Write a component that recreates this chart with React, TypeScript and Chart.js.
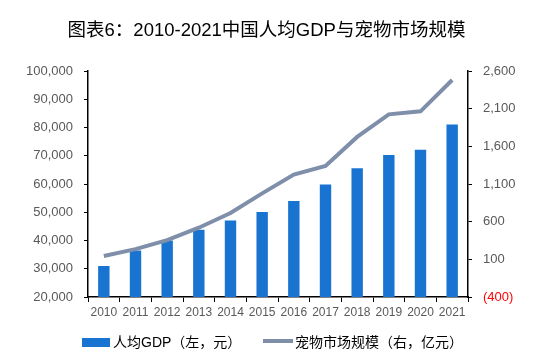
import React, { useEffect, useRef } from 'react';
import { Chart, registerables } from 'chart.js';

Chart.register(...registerables);

const years = ['2010', '2011', '2012', '2013', '2014', '2015', '2016', '2017', '2018', '2019', '2020', '2021'];
const gdpPerCapita = [31000, 36500, 40000, 43800, 47100, 50100, 54000, 59800, 65600, 70300, 72100, 81100];
const petMarket = [145, 235, 355, 520, 715, 975, 1225, 1340, 1725, 2025, 2065, 2480];

const titleText = '图表6：2010-2021中国人均GDP与宠物市场规模';
const gdpLabel = '人均GDP（左，元）';
const petLabel = '宠物市场规模（右，亿元）';

const BAR_COLOR = '#1874D0';
const LINE_COLOR = '#7F8FAA';
const TICK_COLOR = '#595959';
const FONT = "'Liberation Sans', Arial, sans-serif";
const MIXED = "'Liberation Sans', 'Noto Sans CJK SC', sans-serif";

export default function App() {
  const ref = useRef<HTMLCanvasElement | null>(null);

  useEffect(() => {
    if (!ref.current) return;
    const chart = new Chart(ref.current, {
      type: 'bar',
      data: {
        labels: years,
        datasets: [
          {
            type: 'line',
            label: petLabel,
            data: petMarket,
            yAxisID: 'y1',
            borderColor: LINE_COLOR,
            backgroundColor: LINE_COLOR,
            borderWidth: 4,
            pointRadius: 0,
            tension: 0,
            order: 0,
          } as any,
          {
            type: 'bar',
            label: gdpLabel,
            data: gdpPerCapita,
            yAxisID: 'y',
            backgroundColor: BAR_COLOR,
            categoryPercentage: 1,
            barPercentage: 0.36,
            order: 1,
          },
        ],
      },
      options: {
        responsive: false,
        animation: false,
        layout: { padding: { top: 71, bottom: 37, left: 0, right: 0 } },
        plugins: {
          legend: { display: false },
          title: { display: false },
          tooltip: { enabled: false },
        },
        scales: {
          x: {
            offset: true,
            grid: { offset: true, drawOnChartArea: false, drawTicks: true, tickLength: 5, color: '#000' },
            border: { color: '#000', width: 1.5 },
            ticks: { color: TICK_COLOR, font: { family: FONT, size: 12 }, padding: 3, maxRotation: 0 },
            afterFit: (s: any) => { s.height = 30; },
          },
          y: {
            position: 'left',
            min: 20000,
            max: 100000,
            grid: { drawOnChartArea: false, drawTicks: true, tickLength: 4, color: '#000' },
            border: { color: '#000', width: 1.5 },
            ticks: {
              stepSize: 10000,
              color: TICK_COLOR,
              font: { family: FONT, size: 13 },
              padding: 11,
              callback: (v: any) => Number(v).toLocaleString('en-US'),
            },
            afterFit: (s: any) => { s.width = 88; },
          },
          y1: {
            position: 'right',
            min: -400,
            max: 2600,
            grid: { drawOnChartArea: false, drawTicks: true, tickLength: 4, color: '#000' },
            border: { color: '#000', width: 1.5 },
            ticks: {
              stepSize: 500,
              color: (ctx: any) => (ctx.tick && ctx.tick.value < 0 ? '#FF0000' : TICK_COLOR),
              font: { family: FONT, size: 13 },
              padding: 11,
              callback: (v: any) => {
                const n = Number(v);
                const s = Math.abs(n).toLocaleString('en-US');
                return n < 0 ? `(${s})` : s;
              },
            },
            afterFit: (s: any) => { s.width = 79; },
          },
        },
      } as any,
    });
    return () => chart.destroy();
  }, []);

  return (
    <div style={{ position: 'fixed', left: 0, top: 0, width: 547, height: 364, background: '#fff', overflow: 'hidden' }}>
      <canvas ref={ref} width={547} height={364} style={{ position: 'absolute', left: 0, top: 0 }} />
      <div
        style={{
          position: 'absolute', left: -7, top: 17, width: 547, textAlign: 'center',
          fontFamily: MIXED, fontSize: 18.5, lineHeight: '26px', color: '#000',
        }}
      >
        {titleText}
      </div>
      <div style={{ position: 'absolute', left: 82, top: 338, width: 28, height: 9, background: BAR_COLOR }} />
      <div style={{ position: 'absolute', left: 113, top: 332, fontFamily: MIXED, fontSize: 14, lineHeight: '20px', color: '#000', whiteSpace: 'nowrap' }}>
        {gdpLabel}
      </div>
      <div style={{ position: 'absolute', left: 263, top: 339, width: 30, height: 4, background: LINE_COLOR }} />
      <div style={{ position: 'absolute', left: 295, top: 332, fontFamily: MIXED, fontSize: 14, lineHeight: '20px', color: '#000', whiteSpace: 'nowrap' }}>
        {petLabel}
      </div>
    </div>
  );
}
